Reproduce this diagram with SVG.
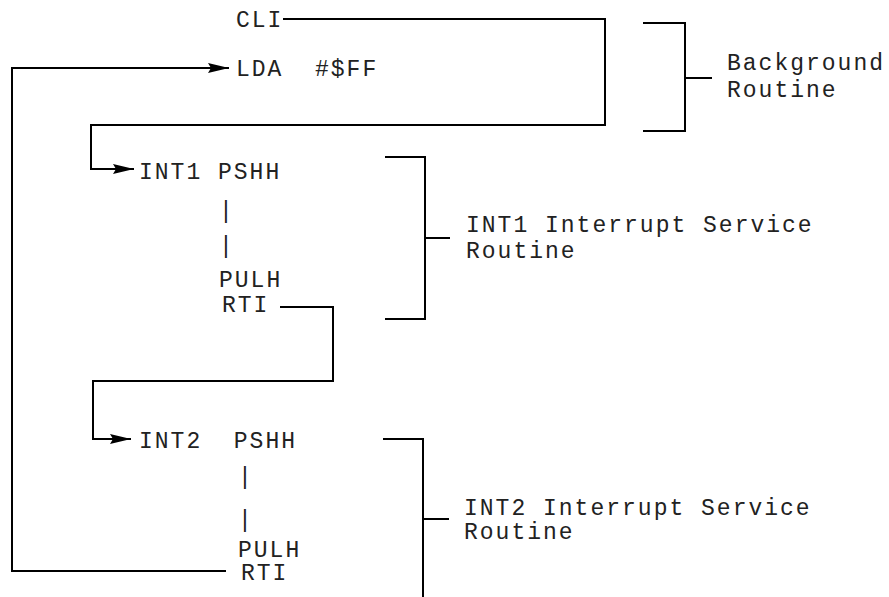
<svg xmlns="http://www.w3.org/2000/svg" width="889" height="597" viewBox="0 0 889 597">
<defs>
<style>
.t{font-family:"Courier New","Liberation Mono",monospace;font-size:23px;letter-spacing:2px;fill:#222;}
.ln{fill:none;stroke:#000;stroke-width:2;}
</style>
<marker id="ah" markerUnits="userSpaceOnUse" markerWidth="21" markerHeight="10" refX="21" refY="5" orient="auto">
<path d="M0,0 L21,5 L0,10 L3,5 z" fill="#000"/>
</marker>
</defs>
<rect width="889" height="597" fill="#fff"/>
<g id="background">
<text class="t" x="236" y="27">CLI</text>
<text class="t" x="236" y="76" xml:space="preserve">LDA  #$FF</text>
</g>
<g id="background-bracket">
<path class="ln" d="M643,23 H685 V131 H643 M685,78 H712"/>
<text class="t" x="727" y="70">Background</text>
<text class="t" x="727" y="97">Routine</text>
</g>
<g id="int1">
<text class="t" x="139" y="179">INT1 PSHH</text>
<text class="t" x="219" y="218">|</text>
<text class="t" x="219" y="253">|</text>
<text class="t" x="219" y="287">PULH</text>
<text class="t" x="222" y="312">RTI</text>
</g>
<g id="int1-bracket">
<path class="ln" d="M385,157 H425 V319 H385 M425,238 H450"/>
<text class="t" x="466" y="232">INT1 Interrupt Service</text>
<text class="t" x="466" y="258">Routine</text>
</g>
<g id="int2">
<text class="t" x="139" y="448" xml:space="preserve">INT2  PSHH</text>
<text class="t" x="238" y="484">|</text>
<text class="t" x="238" y="527">|</text>
<text class="t" x="238" y="557">PULH</text>
<text class="t" x="241" y="580">RTI</text>
</g>
<g id="int2-bracket">
<path class="ln" d="M383,439 H423 V597 M423,519 H449"/>
<text class="t" x="464" y="515">INT2 Interrupt Service</text>
<text class="t" x="464" y="539">Routine</text>
</g>
<g id="connectors">
<path class="ln" d="M283,19 H605 V125 H91 V169 H134" marker-end="url(#ah)"/>
<path class="ln" d="M280,307 H333 V381 H93 V439 H131" marker-end="url(#ah)"/>
<path class="ln" d="M226,571 H12 V68 H229" marker-end="url(#ah)"/>
</g>
</svg>
